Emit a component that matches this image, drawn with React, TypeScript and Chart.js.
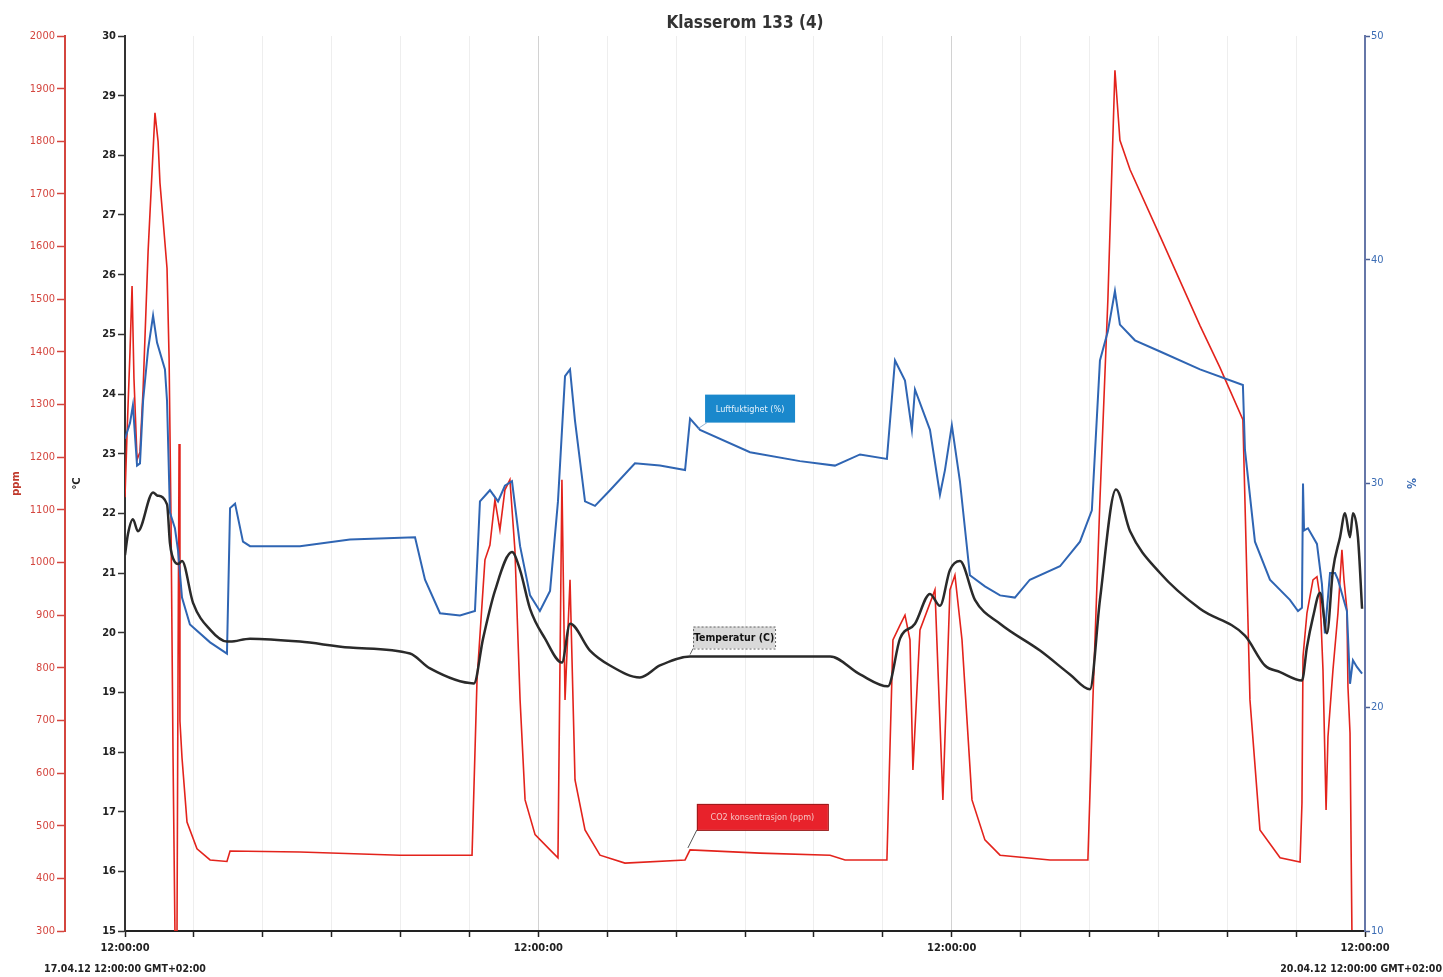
import React, { useEffect, useRef } from "react";
import { Chart, registerables } from "chart.js";

Chart.register(...registerables);

const FONT = "'Liberation Sans Narrow', 'DejaVu Sans Condensed', 'Liberation Sans', Arial, sans-serif";

const chartTitle = "Klasserom 133 (4)";

// x axis: hours after 17.04.12 12:00:00
const majorTickHours = [0, 24, 48, 72];
const majorTickLabels = ["12:00:00", "12:00:00", "12:00:00", "12:00:00"];
const dateLabelHours = [0, 72];
const dateLabels = ["17.04.12 12:00:00 GMT+02:00", "20.04.12 12:00:00 GMT+02:00"];

// Temperature (°C)
const tempHours = [0, 0.17, 0.46, 0.75, 1.63, 1.86, 2.44, 2.61, 2.73, 3.08, 3.31, 3.95, 4.94, 5.92, 6.1, 7.26, 10.16, 13.06, 16.55, 17.71, 20.26, 20.79, 21.48, 22.47, 22.94, 23.52, 24.39, 25.37, 25.84, 27.0, 28.16, 29.9, 31.06, 32.81, 40.94, 42.68, 44.3, 45.0, 45.87, 46.74, 47.32, 47.9, 48.48, 49.35, 50.81, 53.13, 54.87, 56.03, 56.61, 57.54, 58.36, 60.1, 62.42, 65.03, 66.19, 67.07, 68.34, 68.63, 68.98, 69.39, 69.79, 70.14, 70.55, 70.84, 71.13, 71.3, 71.59, 71.83];
const tempValues = [21.3, 21.65, 21.9, 21.7, 22.35, 22.3, 22.15, 21.5, 21.3, 21.15, 21.2, 20.5, 20.05, 19.85, 19.85, 19.9, 19.85, 19.75, 19.65, 19.4, 19.15, 19.9, 20.7, 21.35, 21.05, 20.4, 19.9, 19.5, 20.15, 19.7, 19.45, 19.25, 19.45, 19.6, 19.6, 19.3, 19.1, 19.9, 20.15, 20.65, 20.45, 21.05, 21.2, 20.55, 20.15, 19.7, 19.3, 19.05, 20.55, 22.4, 21.7, 21.0, 20.4, 19.95, 19.45, 19.34, 19.2, 19.76, 20.26, 20.67, 19.99, 21.05, 21.6, 22.0, 21.6, 22.0, 21.6, 20.4];

// Relative humidity (%)
const humHours = [0, 0.29, 0.46, 0.7, 0.87, 1.05, 1.34, 1.63, 1.86, 2.32, 2.44, 2.61, 2.9, 3.08, 3.31, 3.77, 4.94, 5.92, 6.1, 6.39, 6.85, 7.26, 10.16, 13.06, 16.84, 17.42, 18.29, 19.45, 20.32, 20.61, 21.19, 21.66, 22.06, 22.47, 22.94, 23.52, 24.09, 24.68, 25.14, 25.55, 25.84, 26.13, 26.71, 27.29, 28.16, 29.61, 31.06, 32.52, 32.81, 33.39, 36.29, 39.19, 41.22, 42.68, 44.24, 44.71, 45.29, 45.69, 45.87, 46.74, 47.32, 47.61, 48.01, 48.48, 49.06, 49.93, 50.81, 51.67, 52.54, 54.29, 55.45, 56.14, 56.61, 57.07, 57.48, 57.77, 58.64, 60.1, 62.42, 64.91, 65.03, 65.61, 66.48, 67.64, 68.11, 68.34, 68.4, 68.46, 68.69, 69.21, 69.5, 69.67, 69.97, 70.26, 70.43, 70.95, 71.13, 71.3, 71.53, 71.83];
const humValues = [32.0, 32.7, 33.5, 30.8, 30.9, 33.7, 36.0, 37.5, 36.3, 35.1, 33.7, 28.7, 28.0, 27.0, 24.9, 23.7, 22.9, 22.4, 28.9, 29.1, 27.4, 27.2, 27.2, 27.5, 27.6, 25.7, 24.2, 24.1, 24.3, 29.2, 29.7, 29.2, 29.9, 30.1, 27.2, 25.0, 24.3, 25.2, 29.2, 34.8, 35.1, 32.8, 29.2, 29.0, 29.7, 30.9, 30.8, 30.6, 32.9, 32.4, 31.4, 31.0, 30.8, 31.3, 31.1, 35.5, 34.6, 32.4, 34.2, 32.4, 29.5, 30.6, 32.6, 30.1, 25.9, 25.4, 25.0, 24.9, 25.7, 26.3, 27.4, 28.8, 35.5, 36.8, 38.6, 37.1, 36.4, 35.9, 35.1, 34.4, 31.5, 27.4, 25.7, 24.8, 24.3, 24.45, 30.0, 27.9, 28.0, 27.3, 25.5, 23.3, 26.0, 26.0, 25.7, 24.3, 21.05, 22.1, 21.8, 21.5];

// CO2 concentration (ppm)
const co2Hours = [0, 0.12, 0.29, 0.41, 0.52, 0.7, 0.87, 1.05, 1.34, 1.57, 1.74, 1.92, 2.03, 2.21, 2.44, 2.56, 2.67, 2.79, 2.9, 3.02, 3.08, 3.14, 3.19, 3.31, 3.6, 4.18, 4.94, 5.92, 6.1, 10.16, 15.97, 20.15, 20.44, 20.9, 21.19, 21.48, 21.77, 22.06, 22.35, 22.64, 22.94, 23.23, 23.81, 24.68, 25.14, 25.37, 25.55, 25.84, 26.13, 26.71, 27.58, 29.03, 32.52, 32.81, 36.87, 40.94, 41.81, 44.24, 44.59, 45.0, 45.29, 45.58, 45.75, 46.16, 47.03, 47.49, 47.9, 48.19, 48.6, 49.18, 49.93, 50.81, 53.71, 55.91, 56.2, 56.61, 57.07, 57.48, 57.77, 58.36, 60.1, 62.42, 63.58, 64.91, 65.32, 65.9, 67.07, 68.23, 68.34, 68.4, 68.63, 68.98, 69.21, 69.39, 69.56, 69.74, 69.85, 70.14, 70.43, 70.66, 70.78, 70.95, 71.01, 71.13, 71.24];
const co2Values = [1124, 1246, 1400, 1525, 1350, 1195, 1210, 1328, 1590, 1742, 1854, 1800, 1721, 1651, 1559, 1388, 1085, 629, 300, 300, 800, 1225, 699, 629, 507, 456, 435, 432, 452, 450, 444, 444, 777, 1005, 1033, 1119, 1062, 1138, 1157, 1024, 739, 549, 483, 454, 439, 1157, 739, 967, 587, 492, 444, 429, 435, 454, 448, 444, 435, 435, 853, 881, 900, 853, 606, 872, 948, 549, 948, 976, 853, 549, 473, 444, 435, 435, 739, 1119, 1499, 1935, 1802, 1746, 1620, 1450, 1370, 1271, 739, 492, 439, 431, 543, 821, 904, 967, 973, 934, 796, 530, 669, 796, 904, 1024, 967, 910, 764, 676, 302];

// Series labels (callouts)
const humLabel = "Luftfuktighet (%)";
const tempLabel = "Temperatur (C)";
const co2Label = "CO2 konsentrasjon (ppm)";
const calloutHour = 32.81;
const humCalloutValue = 32.9;
const tempCalloutValue = 19.6;
const co2CalloutValue = 454;

const toPoints = (xs: number[], ys: number[]) => xs.map((x, i) => ({ x, y: ys[i] }));
const plain = (v: any) => String(v);

const decorPlugin = {
  id: "decor",
  afterDatasetsDraw(chart: any) {
    const { ctx, scales } = chart;
    const sx = scales.x;
    ctx.save();
    // Humidity callout
    {
      const ax = sx.getPixelForValue(calloutHour);
      const ay = scales.yHum.getPixelForValue(humCalloutValue);
      const l = ax + 15, t = ay - 24, w = 90, h = 28;
      ctx.fillStyle = "#1a88cc";
      ctx.fillRect(l, t, w, h);
      ctx.strokeStyle = "rgba(120,160,200,0.8)";
      ctx.lineWidth = 1;
      ctx.beginPath();
      ctx.moveTo(l + 2, t + h);
      ctx.lineTo(ax + 8, ay + 10);
      ctx.stroke();
      ctx.fillStyle = "#e6f2fb";
      ctx.font = `9px ${FONT}`;
      ctx.textAlign = "center";
      ctx.textBaseline = "middle";
      ctx.fillText(humLabel, l + w / 2, t + h / 2 + 1);
    }
    // Temperature callout
    {
      const ax = sx.getPixelForValue(calloutHour);
      const ay = scales.yTemp.getPixelForValue(tempCalloutValue);
      const l = ax + 3, t = ay - 30, w = 82, h = 22;
      ctx.fillStyle = "#d9d9d9";
      ctx.fillRect(l, t, w, h);
      ctx.setLineDash([2, 2]);
      ctx.strokeStyle = "#666";
      ctx.lineWidth = 1;
      ctx.strokeRect(l + 0.5, t + 0.5, w, h);
      ctx.setLineDash([]);
      ctx.beginPath();
      ctx.moveTo(l, t + h);
      ctx.lineTo(ax, ay - 2);
      ctx.stroke();
      ctx.fillStyle = "#111";
      ctx.font = `bold 10.5px ${FONT}`;
      ctx.textAlign = "center";
      ctx.textBaseline = "middle";
      ctx.fillText(tempLabel, l + w / 2, t + h / 2 + 1);
    }
    // CO2 callout
    {
      const ax = sx.getPixelForValue(calloutHour - 0.3);
      const ay = scales.yCo2.getPixelForValue(co2CalloutValue);
      const l = ax + 12, t = ay - 46, w = 131, h = 26;
      ctx.fillStyle = "#e8222b";
      ctx.fillRect(l, t, w, h);
      ctx.strokeStyle = "#9a1a1a";
      ctx.lineWidth = 1;
      ctx.strokeRect(l + 0.5, t + 0.5, w, h);
      ctx.strokeStyle = "#555";
      ctx.beginPath();
      ctx.moveTo(l, t + h);
      ctx.lineTo(ax + 3, ay - 2);
      ctx.stroke();
      ctx.fillStyle = "#f6c4c4";
      ctx.font = `9px ${FONT}`;
      ctx.textAlign = "center";
      ctx.textBaseline = "middle";
      ctx.fillText(co2Label, l + w / 2, t + h / 2 + 1);
    }
    ctx.restore();
  },
  afterDraw(chart: any) {
    const { ctx, chartArea, scales, width } = chart;
    ctx.save();
    ctx.fillStyle = "#333";
    ctx.font = `bold 17px ${FONT}`;
    ctx.textAlign = "center";
    ctx.textBaseline = "middle";
    ctx.fillText(chartTitle, (chartArea.left + chartArea.right) / 2, 24);
    ctx.font = `bold 10.5px ${FONT}`;
    ctx.fillStyle = "#222";
    dateLabelHours.forEach((h, i) => {
      const w = ctx.measureText(dateLabels[i]).width;
      let cx = scales.x.getPixelForValue(h);
      cx = Math.min(Math.max(cx, w / 2 + 1), width - w / 2 - 1);
      ctx.fillText(dateLabels[i], cx, 969);
    });
    ctx.restore();
  },
};

export default function App() {
  const ref = useRef<HTMLCanvasElement>(null);
  useEffect(() => {
    const chart = new Chart(ref.current as HTMLCanvasElement, {
      type: "line",
      data: {
        datasets: [
          {
            label: tempLabel,
            data: toPoints(tempHours, tempValues),
            yAxisID: "yTemp",
            borderColor: "#2a2a2a",
            borderWidth: 2.5,
            pointRadius: 0,
            cubicInterpolationMode: "monotone",
          },
          {
            label: humLabel,
            data: toPoints(humHours, humValues),
            yAxisID: "yHum",
            borderColor: "#2f65b3",
            borderWidth: 2,
            pointRadius: 0,
            tension: 0,
          },
          {
            label: co2Label,
            data: toPoints(co2Hours, co2Values),
            yAxisID: "yCo2",
            borderColor: "#e3231c",
            borderWidth: 1.6,
            pointRadius: 0,
            tension: 0,
          },
        ],
      },
      options: {
        animation: false,
        responsive: true,
        maintainAspectRatio: false,
        layout: { padding: { top: 36, left: 0, right: 0, bottom: 0 } },
        plugins: {
          legend: { display: false },
          tooltip: { enabled: false },
          title: { display: false },
        },
        scales: {
          x: {
            type: "linear",
            position: "bottom",
            min: 0,
            max: 72,
            ticks: {
              stepSize: 4,
              autoSkip: false,
              maxRotation: 0,
              color: "#222",
              padding: 5,
              font: { family: FONT, size: 11, weight: "bold" },
              callback: (v: any) => {
                const i = majorTickHours.indexOf(Number(v));
                return i >= 0 ? majorTickLabels[i] : "";
              },
            },
            grid: {
              color: (c: any) => (c.tick && c.tick.value % 24 === 0 ? "#d2d2d2" : "#eeeeee"),
              lineWidth: 1,
              tickColor: "#222",
              tickLength: 6,
              tickWidth: 1.5,
            },
            border: { color: "#222", width: 2 },
            afterFit: (s: any) => {
              s.height = 46;
            },
          },
          yCo2: {
            type: "linear",
            position: "left",
            weight: 1,
            min: 300,
            max: 2000,
            ticks: { stepSize: 100, color: "#d4463f", padding: 2, font: { family: FONT, size: 11 }, callback: plain },
            grid: { drawOnChartArea: false, tickColor: "#d4463f", tickLength: 8, tickWidth: 1.5 },
            border: { color: "#d4463f", width: 2 },
            title: {
              display: true,
              text: "ppm",
              color: "#c0392b",
              font: { family: FONT, size: 11, weight: "bold" },
              padding: { top: 10, bottom: 0 },
            },
            afterFit: (s: any) => {
              s.width = 65;
            },
          },
          yTemp: {
            type: "linear",
            position: "left",
            weight: 0,
            min: 15,
            max: 30,
            ticks: { stepSize: 1, color: "#222", padding: 2, font: { family: FONT, size: 11, weight: "bold" }, callback: plain },
            grid: { drawOnChartArea: false, tickColor: "#333", tickLength: 7, tickWidth: 1.5 },
            border: { color: "#333", width: 2 },
            title: {
              display: true,
              text: "°C",
              color: "#222",
              font: { family: FONT, size: 11, weight: "bold" },
              padding: { top: 6, bottom: 0 },
            },
            afterFit: (s: any) => {
              s.width = 60;
            },
          },
          yHum: {
            type: "linear",
            position: "right",
            min: 10,
            max: 50,
            ticks: { stepSize: 10, color: "#3b6cb4", padding: 1, font: { family: FONT, size: 11 }, callback: plain },
            grid: { drawOnChartArea: false, tickColor: "#4a5f95", tickLength: 5, tickWidth: 1.5 },
            border: { color: "#6677a8", width: 2 },
            title: {
              display: true,
              text: "%",
              color: "#3b6cb4",
              font: { family: FONT, size: 12, weight: "bold" },
              padding: { top: 26, bottom: 0 },
            },
            afterFit: (s: any) => {
              s.width = 78;
            },
          },
        },
      },
      plugins: [decorPlugin],
    } as any);
    return () => chart.destroy();
  }, []);
  return (
    <div style={{ position: "absolute", left: 0, top: 0, width: 1443, height: 977, background: "#fff" }}>
      <canvas ref={ref} />
    </div>
  );
}
